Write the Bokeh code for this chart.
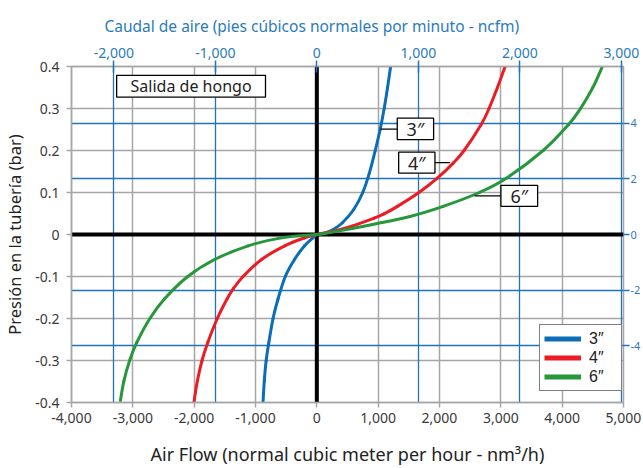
from bokeh.plotting import figure
from bokeh.models import (LinearAxis, Range1d, FixedTicker, Grid, Span, Legend, LegendItem,
                          NumeralTickFormatter)
from bokeh.embed import file_html
from bokeh.resources import INLINE
from bokeh.core.properties import value

FONT = "Noto Sans"

# ---- data ----
flow_3 = [-876, -857, -826, -782, -714, -632, -514, -362, -200, -65, 0,
          107, 267, 417, 599, 749, 856, 952, 1032, 1098, 1153, 1203]
pres_3 = [-0.396, -0.349, -0.30, -0.257, -0.20, -0.153, -0.10, -0.059, -0.027, -0.008, 0,
          0.002, 0.012, 0.028, 0.059, 0.10, 0.146, 0.20, 0.25, 0.30, 0.35, 0.40]

flow_4 = [-2002, -1948, -1872, -1778, -1623, -1462, -1361, -1202, -896, -524, -200, 0,
          272, 571, 936, 1095, 1314, 1665, 1964, 2223, 2401, 2680, 2807, 2945, 3070]
pres_4 = [-0.398, -0.349, -0.30, -0.257, -0.20, -0.153, -0.129, -0.10, -0.059, -0.027, -0.008, 0,
          0.008, 0.020, 0.039, 0.049, 0.067, 0.10, 0.134, 0.17, 0.20, 0.262, 0.30, 0.35, 0.40]

flow_6 = [-3202, -3146, -3052, -2935, -2722, -2482, -2104, -1659, -1119, -578, 0,
          340, 909, 1520, 2060, 2650, 3090, 3690, 4105, 4300, 4500, 4656]
pres_6 = [-0.395, -0.349, -0.30, -0.257, -0.20, -0.153, -0.10, -0.059, -0.027, -0.008, 0,
          0.008, 0.024, 0.043, 0.067, 0.10, 0.134, 0.20, 0.262, 0.30, 0.35, 0.40]

series_names = ["3\u2033", "4\u2033", "6\u2033"]
x_ticks = [-4000, -3000, -2000, -1000, 0, 1000, 2000, 3000, 4000, 5000]
y_ticks = [-0.4, -0.3, -0.2, -0.1, 0, 0.1, 0.2, 0.3, 0.4]
ncfm_ticks = [-2000, -1000, 0, 1000, 2000, 3000]
psi_ticks = [-4, -2, 0, 2, 4]
NM3H_PER_NCFM = 1.655
BAR_PER_PSI = 0.0663

# annotation boxes: (x0, x1, y0, y1), leaders (x0, x1, y)
box_labels = series_names + ["Salida de hongo"]
box_x0 = [1311, 1334, 3001, -3264]
box_x1 = [1904, 1926, 3600, -837]
box_y0 = [0.226, 0.146, 0.067, 0.327]
box_y1 = [0.277, 0.196, 0.117, 0.379]
lead_x0 = [1040, 1926, 2573]
lead_x1 = [1311, 2173, 3001]
lead_y = [0.251, 0.171, 0.092]

BLUE = "#0a6db5"
RED = "#ec1c24"
GREEN = "#27973b"
GRID_BLUE = "#1f74bd"
GRAY = "#a6a6a6"
TXT = "#3a3a3a"
AXBLUE = "#2b7bbb"

p = figure(width=643, height=468, x_range=Range1d(-4000, 5000), y_range=Range1d(-0.4, 0.4),
           output_backend="svg", toolbar_location=None,
           title="Caudal de aire (pies c\u00fabicos normales por minuto - ncfm)",
           min_border_left=67, min_border_right=0, min_border_top=66, min_border_bottom=65)
p.background_fill_color = "white"
p.border_fill_color = "white"
p.outline_line_color = GRAY
p.outline_line_width = 1.5

p.title.align = "left"
p.title.offset = 33
p.title.text_font = FONT
p.title.text_font_size = "15.5px"
p.title.text_font_style = "normal"
p.title.text_color = AXBLUE
p.title.standoff = 16

p.extra_x_ranges = {"ncfm": Range1d(-4000 / NM3H_PER_NCFM, 5000 / NM3H_PER_NCFM)}
p.extra_y_ranges = {"psi": Range1d(-0.4 / BAR_PER_PSI, 0.4 / BAR_PER_PSI)}

# gray grid
p.xgrid.ticker = FixedTicker(ticks=x_ticks)
p.ygrid.ticker = FixedTicker(ticks=y_ticks)
for g in (p.xgrid[0], p.ygrid[0]):
    g.grid_line_color = GRAY
    g.grid_line_width = 1.5

# blue grid from secondary scales
p.add_layout(Grid(dimension=0, ticker=FixedTicker(ticks=ncfm_ticks), x_range_name="ncfm",
                  grid_line_color=GRID_BLUE, grid_line_width=1.3))
p.add_layout(Grid(dimension=1, ticker=FixedTicker(ticks=psi_ticks), y_range_name="psi",
                  grid_line_color=GRID_BLUE, grid_line_width=1.3))

# zero lines
p.add_layout(Span(location=0, dimension="height", line_color="black", line_width=4, level="underlay"))
p.add_layout(Span(location=0, dimension="width", line_color="black", line_width=4, level="underlay"))

# bottom axis
xa = p.xaxis[0]
xa.ticker = FixedTicker(ticks=x_ticks)
xa.formatter = NumeralTickFormatter(format="0,0")
xa.axis_label = "Air Flow (normal cubic meter per hour - nm\u00b3/h)"
# left axis
ya = p.yaxis[0]
ya.ticker = FixedTicker(ticks=y_ticks)
ya.formatter = NumeralTickFormatter(format="0.[0]")
ya.axis_label = "Presi\u00f3n en la tuber\u00eda (bar)"
for ax in (xa, ya):
    ax.axis_line_color = GRAY
    ax.axis_line_width = 1.5
    ax.major_tick_line_color = GRAY
    ax.major_tick_line_width = 1.5
    ax.major_tick_out = 5
    ax.major_tick_in = 0
    ax.minor_tick_line_color = None
    ax.major_label_text_font = FONT
    ax.major_label_text_font_size = "14px"
    ax.major_label_text_color = TXT
    ax.axis_label_text_font = FONT
    ax.axis_label_text_font_style = "normal"
    ax.axis_label_text_color = "#222222"
xa.axis_label_text_font_size = "18px"
xa.major_label_standoff = 5
xa.axis_label_standoff = 16
ya.axis_label_text_font_size = "16.5px"
ya.major_label_standoff = 7
ya.axis_label_standoff = 6

# top axis (ncfm)
top = LinearAxis(x_range_name="ncfm", ticker=FixedTicker(ticks=ncfm_ticks),
                 formatter=NumeralTickFormatter(format="0,0"))
top.axis_line_color = GRAY
top.axis_line_width = 1.5
top.major_tick_line_color = GRID_BLUE
top.major_tick_line_width = 1.5
top.major_tick_in = 6
top.major_tick_out = 6
top.minor_tick_line_color = None
top.major_label_text_font = FONT
top.major_label_text_font_size = "14px"
top.major_label_text_color = AXBLUE
top.major_label_standoff = 3
p.add_layout(top, "above")

# right axis (psi)
right = LinearAxis(y_range_name="psi", ticker=FixedTicker(ticks=psi_ticks),
                   formatter=NumeralTickFormatter(format="0"))
right.axis_label = None
right.axis_label_standoff = 0
right.axis_line_color = None
right.major_tick_line_color = GRID_BLUE
right.major_tick_line_width = 1.3
right.major_tick_in = 0
right.major_tick_out = 6
right.minor_tick_line_color = None
right.major_label_text_font = FONT
right.major_label_text_font_size = "11px"
right.major_label_text_color = AXBLUE
right.major_label_standoff = 1
p.add_layout(right, "right")


def smooth_segments(xs, ys):
    """Cubic Bezier control points (Catmull-Rom) so the curve passes through every read point."""
    n = len(xs)
    seg = {k: [] for k in ("x0", "y0", "x1", "y1", "cx0", "cy0", "cx1", "cy1")}
    for i in range(n - 1):
        i0 = max(i - 1, 0)
        i3 = min(i + 2, n - 1)
        seg["x0"].append(xs[i]); seg["y0"].append(ys[i])
        seg["x1"].append(xs[i + 1]); seg["y1"].append(ys[i + 1])
        seg["cx0"].append(xs[i] + (xs[i + 1] - xs[i0]) / 6.0)
        seg["cy0"].append(ys[i] + (ys[i + 1] - ys[i0]) / 6.0)
        seg["cx1"].append(xs[i + 1] - (xs[i3] - xs[i]) / 6.0)
        seg["cy1"].append(ys[i + 1] - (ys[i3] - ys[i]) / 6.0)
    return seg


# curves
flows = [flow_3, flow_4, flow_6]
press = [pres_3, pres_4, pres_6]
colors = [BLUE, RED, GREEN]
legend_items = []
nan = float("nan")
for f, pr, c, name in zip(flows, press, colors, series_names):
    p.bezier(**smooth_segments(f, pr), line_color=c, line_width=3, line_cap="round")
    dummy = p.line(x=[nan, nan], y=[nan, nan], line_color=c, line_width=5)
    legend_items.append(LegendItem(label=name, renderers=[dummy]))

# annotation boxes
p.segment(x0=lead_x0, y0=lead_y, x1=lead_x1, y1=lead_y, line_color="black", line_width=1.2)
p.quad(left=box_x0, right=box_x1, bottom=box_y0, top=box_y1, fill_color="white",
       line_color="black", line_width=1.3)
cx = [(a + b) / 2 for a, b in zip(box_x0, box_x1)]
cy = [(a + b) / 2 for a, b in zip(box_y0, box_y1)]
p.text(x=cx[:3], y=cy[:3], text=box_labels[:3], text_align="center", text_baseline="middle",
       text_font=value(FONT), text_font_size={"value": "18px"}, text_color="#222222")
p.text(x=cx[3:], y=cy[3:], text=box_labels[3:], text_align="center", text_baseline="middle",
       text_font=value(FONT), text_font_size={"value": "16px"}, text_color="#222222")

legend = Legend(items=legend_items, location=(468, 11), margin=0, padding=4, spacing=0,
                glyph_width=37, glyph_height=19, label_height=19, label_width=28,
                label_standoff=8, border_line_color="black", border_line_width=1.3,
                label_text_font="Liberation Sans", label_text_font_size="16px",
                label_text_color="#222222", background_fill_alpha=1.0)
p.add_layout(legend, "center")

open("out.html", "w").write(file_html(p, INLINE))
